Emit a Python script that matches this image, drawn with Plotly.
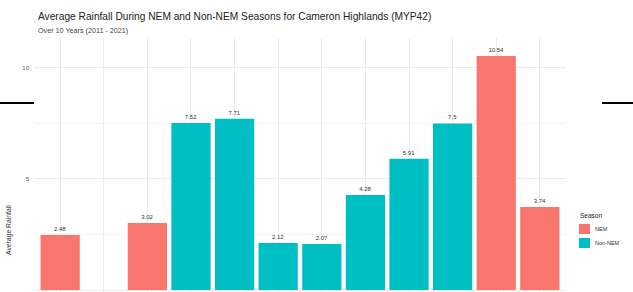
import plotly.graph_objects as go

months = ["Jan", "Feb", "Mar", "Apr", "May", "Jun", "Jul", "Aug", "Sep", "Oct", "Nov", "Dec"]
nem_values = [2.48, None, 3.02, None, None, None, None, None, None, None, 10.54, 3.74]
non_nem_values = [None, None, None, 7.52, 7.71, 2.12, 2.07, 4.28, 5.91, 7.50, None, None]
y_ticks = [0, 5, 10]
season_names = ["NEM", "Non-NEM"]
season_colors = ["#F8766D", "#00BFC4"]

def fmt(v):
    if v is None:
        return ""
    return f"{v:.2f}".rstrip("0").rstrip(".")

W, H = 633, 292
L, R, T, B = 34, 67, 38, 0
pw, ph = W - L - R, H - T - B

def px(x):
    return (x - L) / pw

def py(y):
    return (H - B - y) / ph

fig = go.Figure()
for name, color, vals in zip(season_names, season_colors, [nem_values, non_nem_values]):
    fig.add_trace(go.Bar(
        x=months, y=vals, name=name, marker_color=color, marker_line_width=0,
        width=0.9, text=[fmt(v) for v in vals], textposition="outside",
        textfont=dict(size=6, color="#333333"), cliponaxis=False, showlegend=False,
    ))

annotations = [
    dict(text="Average Rainfall During NEM and Non-NEM Seasons for Cameron Highlands (MYP42)",
         xref="paper", yref="paper", x=px(36), y=py(17), xanchor="left", yanchor="middle",
         showarrow=False, font=dict(size=10.2, color="#222222")),
    dict(text="Over 10 Years (2011 - 2021)",
         xref="paper", yref="paper", x=px(36), y=py(30), xanchor="left", yanchor="middle",
         showarrow=False, font=dict(size=7.2, color="#444444")),
    dict(text="Average Rainfall", textangle=-90,
         xref="paper", yref="paper", x=px(9), y=py(230), xanchor="center", yanchor="middle",
         showarrow=False, font=dict(size=6.8, color="#333333")),
    dict(text="Season", xref="paper", yref="paper", x=px(578), y=py(215),
         xanchor="left", yanchor="middle", showarrow=False, font=dict(size=6.5, color="#222222")),
]
shapes = [
    dict(type="line", xref="paper", yref="paper", x0=px(0), x1=px(34), y0=py(103), y1=py(103),
         line=dict(color="black", width=2)),
    dict(type="line", xref="paper", yref="paper", x0=px(602), x1=px(633), y0=py(103), y1=py(103),
         line=dict(color="black", width=2)),
]
for i, (name, color) in enumerate(zip(season_names, season_colors)):
    top = 224 + i * 14
    shapes.append(dict(type="rect", xref="paper", yref="paper",
                       x0=px(579), x1=px(590), y0=py(top), y1=py(top + 10),
                       fillcolor=color, line=dict(width=0)))
    annotations.append(dict(text=name, xref="paper", yref="paper", x=px(593), y=py(top + 5),
                            xanchor="left", yanchor="middle", showarrow=False,
                            font=dict(size=5.5, color="#333333")))

fig.update_layout(
    width=W, height=H,
    margin=dict(l=L, r=R, t=T, b=B, pad=0),
    barmode="overlay",
    plot_bgcolor="white", paper_bgcolor="white",
    font=dict(family="Liberation Sans, Arial, sans-serif", color="#333333"),
    showlegend=False,
    xaxis=dict(
        type="category", categoryarray=months, range=[-0.6, 11.6], showticklabels=False,
        showgrid=True, gridcolor="#ececec", gridwidth=1, zeroline=False,
        showline=False, ticks="",
    ),
    yaxis=dict(
        range=[-0.09, 11.35], tickvals=y_ticks, ticktext=[str(t) for t in y_ticks],
        tickfont=dict(size=6, color="#555555"), ticks="", ticklabelstandoff=4,
        showgrid=True, gridcolor="#ebebeb", gridwidth=1, zeroline=False,
        minor=dict(tickvals=[2.5, 7.5], showgrid=True, gridcolor="#f4f4f4", gridwidth=1),
    ),
    annotations=annotations,
    shapes=shapes,
)

fig.write_html("out.html", config={"displayModeBar": False},
               post_script="document.body.style.margin='0';")
